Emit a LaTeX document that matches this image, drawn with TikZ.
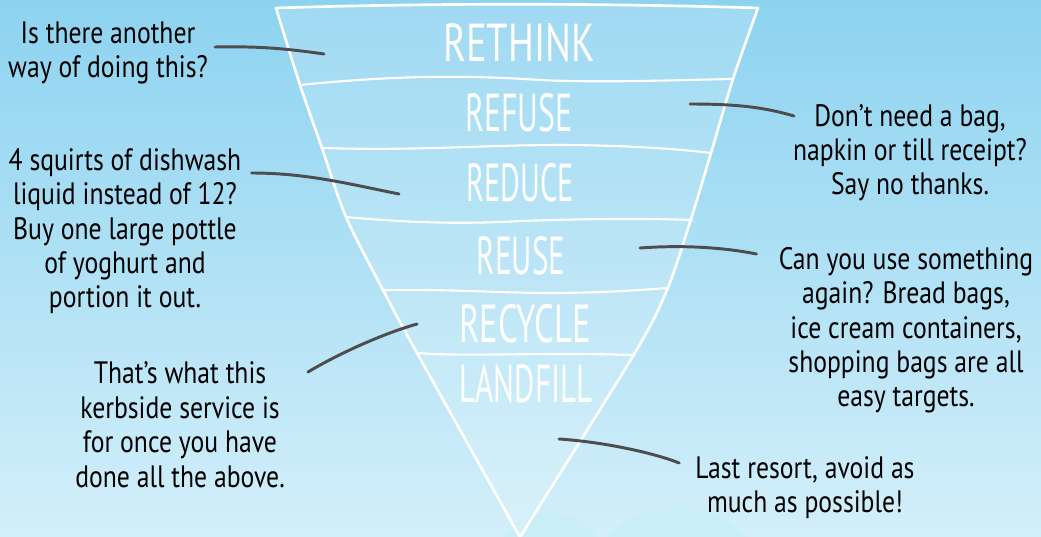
\documentclass[tikz,border=0pt]{standalone}
\usepackage{fontspec}
\newfontfamily\handfont[FakeStretch=0.83]{PT Sans}
\newfontfamily\capsfont[FakeStretch=0.72]{PT Sans}
\usetikzlibrary{calc}
\definecolor{skytop}{HTML}{8DD3F0}
\definecolor{skybottom}{HTML}{D3EFFA}
\definecolor{pingray}{HTML}{4D4D4F}
\definecolor{bubble}{HTML}{C6EFF4}

\begin{document}
\begin{tikzpicture}[x=0.025cm, y=-0.025cm,
    % white layer names inside the funnel
    layer txt/.style={text=white, inner sep=0pt, anchor=base,
                font=\capsfont\fontsize{38}{40}\selectfont},
    % black hand written notes (anchored on the baseline of the last line)
    call txt/.style={text=black, inner sep=0pt, align=center, anchor=base,
                font=\handfont\fontsize{22}{24.5}\selectfont},
    pin line/.style={draw=pingray, line width=2.1pt, line cap=round},
    funnel line/.style={draw=white, line width=1.9pt, line join=round},
    bar line/.style={draw=white, line width=1.5pt, line cap=round}
    ]
\useasboundingbox (0,0) rectangle (1041,537);

%% Background
\shade[top color=skytop, bottom color=skybottom] (0,0) rectangle (1041,537);
\begin{scope}
  \clip (0,0) rectangle (1041,537);
  \fill[bubble, opacity=.6] (550,571) circle (58);
  \fill[bubble, opacity=.6] (677,607) circle (99);
\end{scope}

%% Funnel
\path[funnel line, fill=white, fill opacity=.16]
  (276,8) .. controls (430,3) and (600,3) .. (758,8)
  -- plot[smooth, tension=.5] coordinates {(758,8) (733,79) (711,153) (691,219) (667,290) (633,356) (520,537)}
  -- plot[smooth, tension=.5] coordinates {(520,537) (417,353) (383,290) (346,217) (322,148) (300,85) (276,8)}
  -- cycle;

%% Dividing lines
\draw[bar line] (300,85) .. controls (380,77) and (450,74) .. (540,80) .. controls (600,83) and (680,80) .. (733,79);
\draw[bar line] (322,148) .. controls (420,151) and (480,145) .. (560,145) .. controls (620,145) and (680,149) .. (711,153);
\draw[bar line] (346,217) .. controls (400,222) and (450,224) .. (500,222) .. controls (560,219) and (640,218) .. (692,220);
\draw[bar line] (383,290) .. controls (450,289) and (500,293) .. (550,293) .. controls (600,293) and (640,290) .. (668,288);
\draw[bar line] (417,353) .. controls (470,357) and (540,352) .. (633,355);

%% Layer names
\node[layer txt] (rethink) at (519,62)  {RETHINK};
\node[layer txt] (refuse)  at (519,132) {\scalebox{.83}[1]{REFUSE}};
\node[layer txt] (reduce)  at (520,202) {\scalebox{.79}[1]{REDUCE}};
\node[layer txt] (reuse)   at (521,275) {\scalebox{.81}[1]{REUSE}};
\node[layer txt] (recycle) at (525,343) {\scalebox{.9}[1]{RECYCLE}};
\node[layer txt] (landfill) at (526,403) {\scalebox{.81}[1]{LANDFILL}};

%% Notes
\node[call txt] (callRethink) at (108,78) {Is there another\\way of doing this?};
\node[call txt] (callReduce) at (125,308) {4 squirts of dishwash\\liquid instead of 12?\\Buy one large pottle\\of yoghurt and\\portion it out.};
\node[call txt] (callRecycle) at (180,487) {That’s what this\\kerbside service is\\for once you have\\done all the above.};
\node[call txt] (callRefuse) at (910,195) {Don’t need a bag,\\napkin or till receipt?\\Say no thanks.};
\node[call txt] (callReuse) at (906,407) {Can you use something\\again? Bread bags,\\ice cream containers,\\shopping bags are all\\easy targets.};
\node[call txt] (callLandfill) at (805,513) {Last resort, avoid as\\much as possible!};

%% Pins into the funnel
\coordinate (pinRethink) at (324,54);
\coordinate (pinReduce) at (399,194);
\coordinate (pinRecycle) at (417,324);
\coordinate (pinRefuse) at (690,104);
\coordinate (pinReuse) at (640,248);
\coordinate (pinLandfill) at (559,439);

\draw[pin line] ([shift={(7,-31)}]callRethink.base east) .. controls +(45,-1) and +(-35,-5) .. (pinRethink);
\draw[pin line] ([shift={(10,-135)}]callReduce.base east) .. controls +(55,0) and +(-50,-10) .. (pinReduce);
\draw[pin line] ([shift={(23,-115)}]callRecycle.base east) .. controls +(30,-18) and +(-35,10) .. (pinRecycle);
\draw[pin line] ([shift={(1,-79)}]callRefuse.base west) .. controls +(-30,-9) and +(45,0) .. (pinRefuse);
\draw[pin line] ([shift={(-22,-153)}]callReuse.base west) .. controls +(-35,-7) and +(40,-3) .. (pinReuse);
\draw[pin line] ([shift={(-16,-50)}]callLandfill.base west) .. controls +(-25,-10) and +(45,3) .. (pinLandfill);

\end{tikzpicture}
\end{document}
